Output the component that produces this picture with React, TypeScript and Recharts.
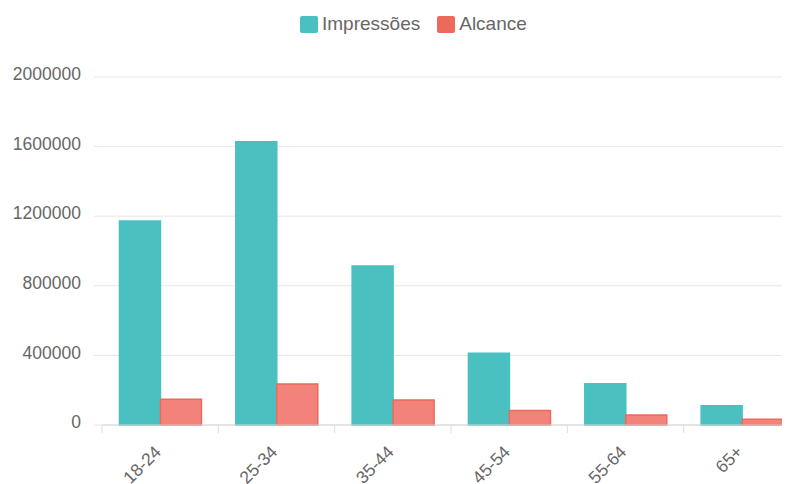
import React from "react";
import { BarChart, Bar, XAxis, YAxis, CartesianGrid } from "recharts";

const categories = ["18-24", "25-34", "35-44", "45-54", "55-64", "65+"];
const impressoes = [1172000, 1628000, 914000, 412000, 237000, 111000];
const alcance = [148000, 236000, 144000, 84000, 57000, 33000];
const yTicks = [0, 400000, 800000, 1200000, 1600000, 2000000];

const series = [
  { key: "impressoes", name: "Impressões", fill: "#4BC0C0", stroke: "#4BC0C0" },
  { key: "alcance", name: "Alcance", fill: "#F3837A", stroke: "#EC6A5C" },
];

const data = categories.map((c, i) => ({ cat: c, impressoes: impressoes[i], alcance: alcance[i] }));

const FONT = "'Liberation Sans', Arial, Helvetica, sans-serif";

const YTick = (props: any) => {
  const { x, y, payload } = props;
  return (
    <text x={x} y={y - 3} dy="0.355em" textAnchor="end" fill="#666" fontSize={17.5} fontFamily={FONT}>
      {payload.value}
    </text>
  );
};

const XTick = (props: any) => {
  const { x, y, payload } = props;
  const off = payload && typeof payload.offset === "number" ? payload.offset : 57.5;
  return (
    <g>
      <line x1={x - off} x2={x - off} y1={y} y2={y + 8} stroke="#dddddd" />
      <g transform={`translate(${x + 2},${y + 28})`}>
        <text transform="rotate(-45)" textAnchor="end" fill="#666" fontSize={17.5} fontFamily={FONT}>
          {payload.value}
        </text>
      </g>
    </g>
  );
};

export default function App() {
  return (
    <div style={{ position: "relative", width: 792, height: 476, fontFamily: FONT }}>
      <div
        style={{
          position: "absolute",
          top: 5,
          left: 292,
          display: "flex",
          alignItems: "center",
          fontSize: 19,
          color: "#666",
          whiteSpace: "nowrap",
        }}
      >
        {series.map((s) => (
          <div key={s.key} style={{ display: "flex", alignItems: "center", marginRight: 17 }}>
            <span
              style={{
                display: "inline-block",
                width: 18,
                height: 17,
                background: s.stroke,
                borderRadius: 2,
                marginRight: 4,
              }}
            />
            <span>{s.name}</span>
          </div>
        ))}
      </div>
      <BarChart
        width={792}
        height={476}
        data={data}
        margin={{ top: 69, right: 0, left: 0, bottom: 0 }}
        barCategoryGap="15%"
        barGap={0}
      >
        <CartesianGrid vertical={false} stroke="#e6e6e6" />
        <XAxis
          dataKey="cat"
          tick={<XTick />}
          tickLine={false}
          tickSize={0}
          tickMargin={0}
          axisLine={{ stroke: "#d6d6d6" }}
          interval={0}
          height={59}
        />
        <YAxis
          domain={[0, 2000000]}
          ticks={yTicks}
          width={94}
          tick={<YTick />}
          tickSize={8}
          tickMargin={13}
          tickLine={{ stroke: "#e6e6e6" }}
          axisLine={false}
          interval={0}
        />
        {series.map((s) => (
          <Bar
            key={s.key}
            dataKey={s.key}
            name={s.name}
            fill={s.fill}
            stroke={s.stroke}
            strokeWidth={1.5}
            isAnimationActive={false}
          />
        ))}
      </BarChart>
    </div>
  );
}
